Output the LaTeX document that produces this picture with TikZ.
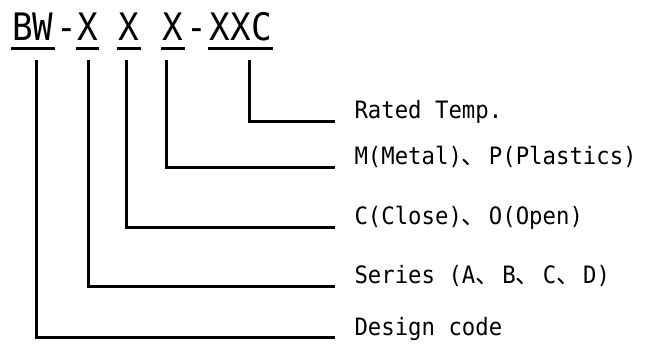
\documentclass[tikz,border=0pt]{standalone}
\usepackage{fontspec}
\newfontfamily\codefont[FakeStretch=0.905]{DejaVu Sans Mono}
\newfontfamily\descfont[FakeStretch=0.933]{DejaVu Sans Mono}
\newfontfamily\cjk{Noto Sans CJK SC}
\newcommand\cjkcomma{\makebox[27bp][l]{\cjk 、}}
\begin{document}
\begin{tikzpicture}[line width=3bp,
  code/.style={inner sep=0pt,anchor=base west,font=\codefont\fontsize{38}{40}\selectfont},
  desc/.style={inner sep=0pt,anchor=base west,font=\descfont\fontsize{24}{26}\selectfont}]
  \useasboundingbox (0bp,0bp) rectangle (645bp,352bp);
  \node (bw) at (10.5bp,311bp) [code] {BW};
  \node (d1) at (bw.base east) [code] {-};
  \node (x1) at (75.7bp,311bp) [code] {X};
  \node (x2) at (117bp,311bp) [code] {X};
  \node (x3) at (161bp,311bp) [code] {X};
  \node (d2) at (x3.base east) [code] {-};
  \node (xxc) at (d2.base east) [code] {XXC};
  \node (temp) at (353bp,233bp) [desc] {Rated Temp.};
  \node (mat) at (353bp,187bp) [desc] {M(Metal)\cjkcomma P(Plastics)};
  \node (cls) at (353bp,127bp) [desc] {C(Close)\cjkcomma O(Open)};
  \node (ser) at (353bp,68bp) [desc] {Series (A\cjkcomma B\cjkcomma C\cjkcomma D)};
  \node (des) at (353bp,17bp) [desc] {Design code};
  % underlines
  \draw ([yshift=-7.5bp]bw.base west) -- ([yshift=-7.5bp]bw.base east);
  \draw ([yshift=-7.5bp]x1.base west) -- ([yshift=-7.5bp]x1.base east);
  \draw ([yshift=-7.5bp]x2.base west) -- ([yshift=-7.5bp]x2.base east);
  \draw ([yshift=-7.5bp]x3.base west) -- ([yshift=-7.5bp]x3.base east);
  \draw ([yshift=-7.5bp]xxc.base west) -- ([yshift=-7.5bp]xxc.base east);
  % leaders
  \draw ([shift={(8.6bp,-19bp)}]xxc.base) |- ([shift={(-18bp,-3bp)}]temp.base west);
  \draw ([shift={(-6.4bp,-19bp)}]x3.base) |- ([shift={(-18bp,-3bp)}]mat.base west);
  \draw ([shift={(-2.4bp,-19bp)}]x2.base) |- ([shift={(-18bp,-3bp)}]cls.base west);
  \draw ([shift={(1bp,-19bp)}]x1.base) |- ([shift={(-18bp,-3bp)}]ser.base west);
  \draw ([shift={(3.8bp,-19bp)}]bw.base) |- ([shift={(-18bp,-3bp)}]des.base west);
\end{tikzpicture}
\end{document}
